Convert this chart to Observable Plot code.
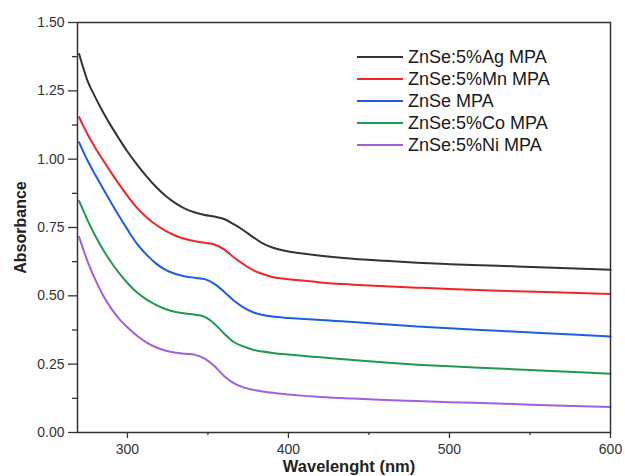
<!DOCTYPE html>
<html>
<head>
<meta charset="utf-8">
<script src="https://cdn.jsdelivr.net/npm/d3@7"></script>
<script src="https://cdn.jsdelivr.net/npm/@observablehq/plot@0.6"></script>
<style>
  body { margin: 0; background: #fff; font-family: "Liberation Sans", Arial, sans-serif; }
  #wrap { position: relative; width: 625px; height: 476px; overflow: hidden; }
  #legend { position: absolute; left: 357px; top: 46px; font-size: 18px; color: #1a1a1a; }
  #legend .row { display: flex; align-items: center; height: 22px; }
  #legend .sw { width: 46px; height: 2px; margin-right: 5px; }
</style>
</head>
<body>
<div id="wrap"></div>
<script>
const wavelengths = [270,272,275,280,285,290,295,300,306,312,318,324,330,336,342,348,354,360,366,372,378,384,390,400,410,420,440,460,480,500,530,560,600];

const seriesNames = ["ZnSe:5%Ag MPA","ZnSe:5%Mn MPA","ZnSe MPA","ZnSe:5%Co MPA","ZnSe:5%Ni MPA"];
const seriesColors = ["#333333","#f42424","#1c5fe4","#1f9a50","#a060e0"];

const agValues   = [1.385,1.345,1.290,1.227,1.171,1.120,1.073,1.028,0.980,0.936,0.897,0.864,0.838,0.818,0.805,0.796,0.790,0.781,0.762,0.740,0.715,0.692,0.677,0.662,0.654,0.647,0.636,0.628,0.621,0.616,0.610,0.604,0.595];
const mnValues   = [1.154,1.129,1.094,1.042,0.995,0.950,0.907,0.866,0.822,0.787,0.759,0.737,0.720,0.708,0.700,0.694,0.688,0.670,0.641,0.616,0.594,0.580,0.569,0.561,0.555,0.549,0.541,0.535,0.530,0.525,0.519,0.514,0.507];
const pureValues = [1.062,1.035,0.998,0.943,0.891,0.840,0.790,0.743,0.690,0.650,0.617,0.594,0.580,0.571,0.566,0.561,0.544,0.515,0.483,0.458,0.440,0.430,0.424,0.419,0.415,0.412,0.404,0.396,0.388,0.381,0.372,0.363,0.351];
const coValues   = [0.847,0.820,0.780,0.720,0.668,0.622,0.582,0.547,0.512,0.486,0.466,0.451,0.441,0.435,0.431,0.423,0.398,0.362,0.331,0.315,0.303,0.296,0.291,0.285,0.280,0.275,0.265,0.256,0.248,0.242,0.234,0.226,0.215];
const niValues   = [0.715,0.680,0.630,0.560,0.500,0.453,0.415,0.385,0.354,0.329,0.311,0.299,0.292,0.288,0.284,0.270,0.243,0.207,0.181,0.165,0.156,0.150,0.145,0.139,0.134,0.130,0.124,0.119,0.115,0.111,0.106,0.100,0.093];

const majorYTicks = [0,0.25,0.5,0.75,1.0,1.25,1.5];
const minorYTicks = [0.125,0.375,0.625,0.875,1.125,1.375];
const majorXTicks = [300,400,500,600];
const minorXTicks = [350,450,550];

const allValues = [agValues, mnValues, pureValues, coValues, niValues];
const data = [];
seriesNames.forEach((name, s) => {
  wavelengths.forEach((w, i) => data.push({series: name, wl: w, abs: allValues[s][i]}));
});

const axisColor = "#333";
const chart = Plot.plot({
  width: 625,
  height: 476,
  marginLeft: 77,
  marginRight: 15,
  marginTop: 22,
  marginBottom: 44,
  style: {fontFamily: "'Liberation Sans', Arial, sans-serif", fontSize: "14px", color: "#333", background: "#fff"},
  x: {domain: [269, 600]},
  y: {domain: [0, 1.5]},
  color: {domain: seriesNames, range: seriesColors},
  marks: [
    Plot.line(data, {x: "wl", y: "abs", stroke: "series", z: "series", curve: "monotone-x", strokeWidth: 2}),
    Plot.frame({stroke: axisColor, strokeWidth: 1.5}),
    Plot.axisY({ticks: majorYTicks, tickFormat: d3.format(".2f"), tickSize: 9, tickPadding: 4, label: null, stroke: axisColor, strokeWidth: 1.3, fontSize: 14}),
    Plot.axisY({ticks: minorYTicks, tickFormat: () => "", tickSize: 5, label: null, stroke: axisColor, strokeWidth: 1.3}),
    Plot.axisX({ticks: majorXTicks, tickFormat: d3.format("d"), tickSize: 6, tickPadding: 6, label: null, stroke: axisColor, strokeWidth: 1.3, fontSize: 14}),
    Plot.axisX({ticks: minorXTicks, tickFormat: () => "", tickSize: 3, label: null, stroke: axisColor, strokeWidth: 1.3}),
    Plot.text(["Absorbance"], {frameAnchor: "left", rotate: -90, dx: -57, textAnchor: "middle", lineAnchor: "middle", fontWeight: "bold", fontSize: 16, fill: "#222"}),
    Plot.text(["Wavelenght (nm)"], {frameAnchor: "bottom", dx: 5, dy: 39, textAnchor: "middle", lineAnchor: "bottom", fontWeight: "bold", fontSize: 16.5, fill: "#222"})
  ]
});

const wrap = document.getElementById("wrap");
wrap.appendChild(chart);

const legend = document.createElement("div");
legend.id = "legend";
seriesNames.forEach((name, i) => {
  const row = document.createElement("div");
  row.className = "row";
  const sw = document.createElement("span");
  sw.className = "sw";
  sw.style.background = seriesColors[i];
  const label = document.createElement("span");
  label.textContent = name;
  row.appendChild(sw);
  row.appendChild(label);
  legend.appendChild(row);
});
wrap.appendChild(legend);
</script>
</body>
</html>
